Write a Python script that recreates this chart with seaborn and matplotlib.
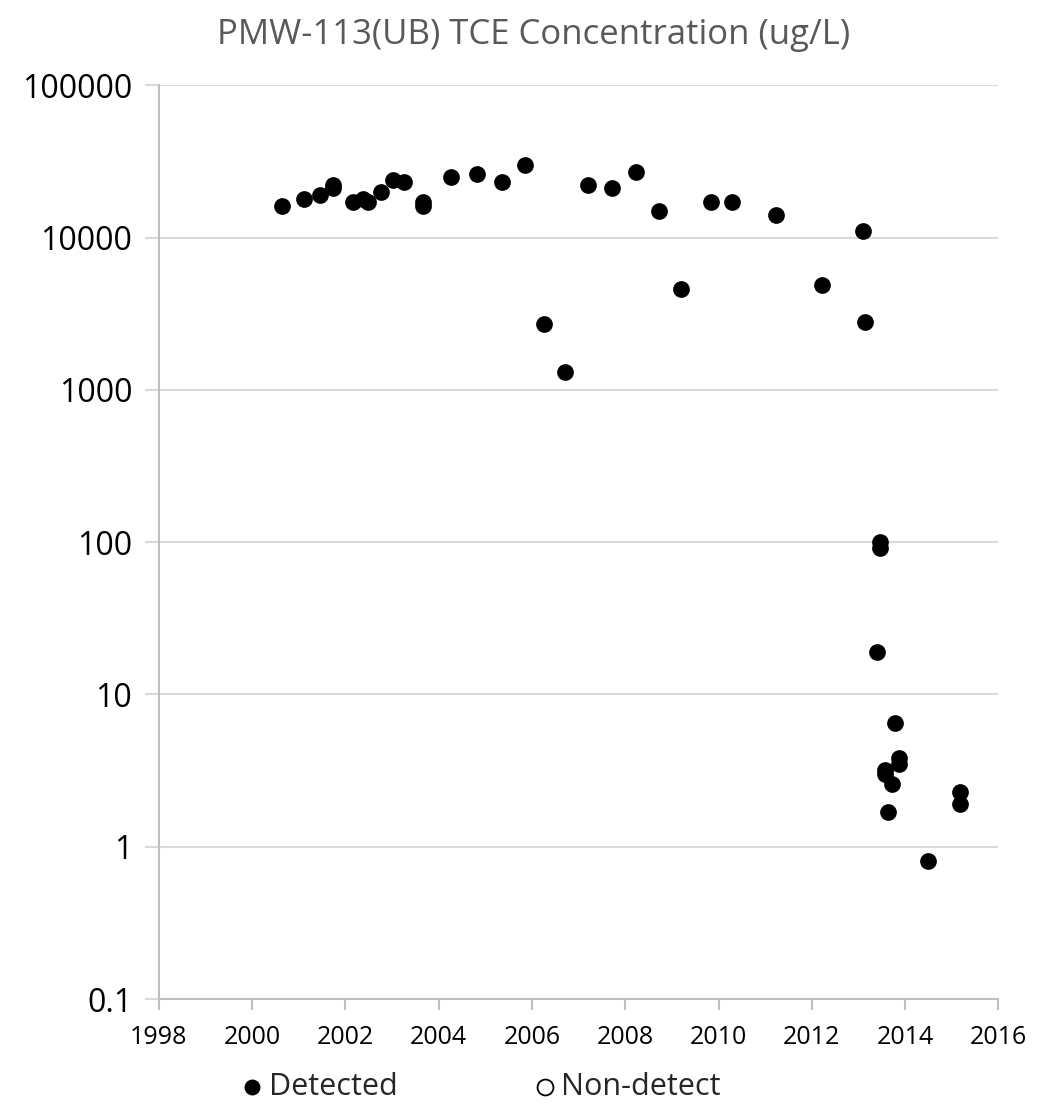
import matplotlib
matplotlib.use("Agg")
import matplotlib.pyplot as plt
import seaborn as sns
import pandas as pd

# Sampling dates (decimal years) and TCE concentrations (ug/L) at PMW-113(UB)
detected_dates = [
    2000.64, 2001.12, 2001.46, 2001.74, 2001.74, 2002.16, 2002.37, 2002.49,
    2002.76, 2003.03, 2003.26, 2003.67, 2003.67, 2004.26, 2004.82, 2005.36,
    2005.85, 2006.26, 2006.71, 2007.21, 2007.72, 2008.24, 2008.72, 2009.19,
    2009.84, 2010.29, 2011.24, 2012.21, 2013.09, 2013.14, 2013.46, 2013.46,
    2013.39, 2013.78, 2013.87, 2013.87, 2013.57, 2013.57, 2013.71, 2013.64,
    2014.49, 2015.17, 2015.17,
]
detected_tce = [
    16000, 18000, 19000, 22000, 21000, 17000, 18000, 17000,
    20000, 24000, 23000, 17000, 16000, 25000, 26000, 23000,
    30000, 2700, 1300, 22000, 21000, 27000, 15000, 4600,
    17000, 17000, 14000, 4900, 11000, 2800, 100, 92,
    19, 6.5, 3.8, 3.5, 3.2, 3.0, 2.6, 1.7,
    0.8, 2.3, 1.9,
]
nondetect_dates = []
nondetect_tce = []

x_ticks = [1998, 2000, 2002, 2004, 2006, 2008, 2010, 2012, 2014, 2016]
y_ticks = [0.1, 1, 10, 100, 1000, 10000, 100000]
y_tick_labels = ["0.1", "1", "10", "100", "1000", "10000", "100000"]

sns.set_theme(style="white")
plt.rcParams["font.family"] = ["Open Sans", "DejaVu Sans"]

fig = plt.figure(figsize=(10.53, 11.13), dpi=100)
ax = fig.add_axes([0.1507, 0.1024, 0.7975, 0.8210])

detected = pd.DataFrame({"date": detected_dates, "tce": detected_tce})
sns.scatterplot(data=detected, x="date", y="tce", ax=ax, s=145,
                color="black", edgecolor="black", linewidth=0,
                label="Detected", zorder=3)
ax.scatter(nondetect_dates, nondetect_tce, s=145, facecolor="white",
           edgecolor="black", linewidth=1.3, label="Non-detect", zorder=3)

ax.set_yscale("log")
ax.set_xlim(1998, 2016)
ax.set_ylim(0.1, 100000)
ax.set_xticks(x_ticks)
ax.set_xticklabels([str(t) for t in x_ticks], fontsize=18, color="black")
ax.set_yticks(y_ticks)
ax.set_yticklabels(y_tick_labels, fontsize=23, color="black")
ax.yaxis.set_minor_locator(matplotlib.ticker.NullLocator())

ax.grid(axis="y", color="#d9d9d9", linewidth=1.5)
ax.grid(axis="x", visible=False)
ax.set_axisbelow(True)
for side in ("top", "right"):
    ax.spines[side].set_visible(False)
for side in ("left", "bottom"):
    ax.spines[side].set_color("#bfbfbf")
    ax.spines[side].set_linewidth(1.5)
ax.tick_params(axis="x", which="major", direction="out", length=8,
               width=1.5, color="#bfbfbf", pad=11, bottom=True)
ax.tick_params(axis="y", which="major", direction="out", length=10,
               width=1.5, color="#d9d9d9", pad=9, left=True)
ax.set_xlabel("")
ax.set_ylabel("")

fig.text(0.507, 0.969, "PMW-113(UB) TCE Concentration (ug/L)",
         ha="center", va="center", fontsize=25, color="#595959")

leg = ax.legend(loc="center", bbox_to_anchor=(0.385, -0.096),
                ncol=2, frameon=False, fontsize=22, handlelength=0.6,
                handletextpad=0.25, columnspacing=4.5, markerscale=0.95)

fig.savefig("out.png", dpi=100)
